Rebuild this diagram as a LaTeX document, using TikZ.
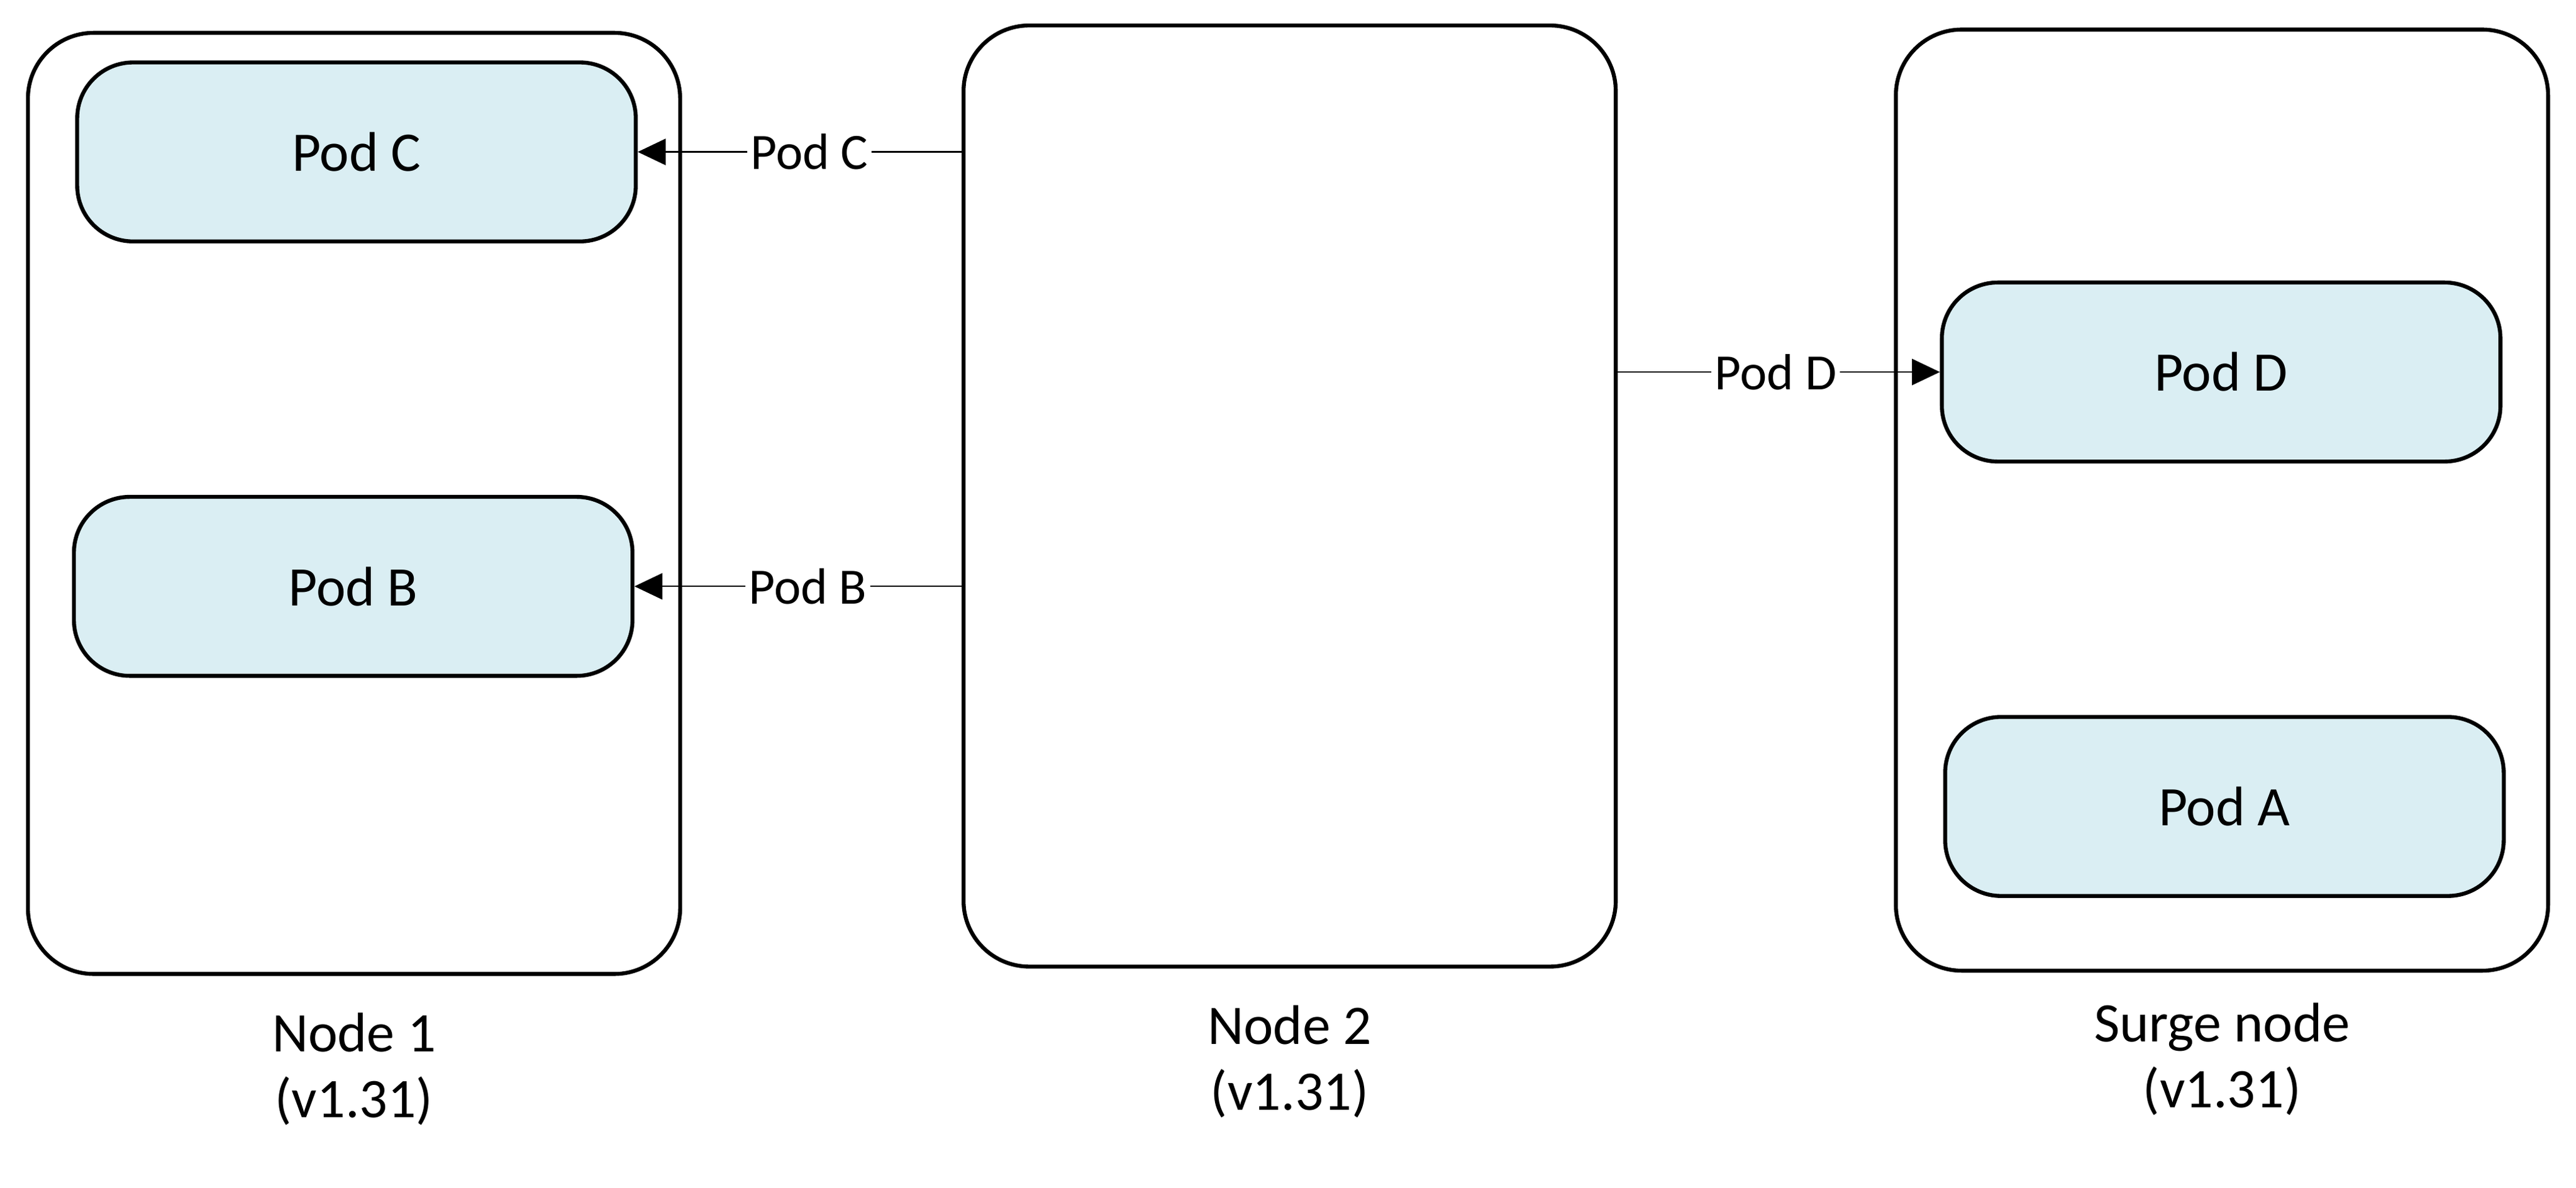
\documentclass[tikz,border=0pt]{standalone}
\usepackage{fontspec}
\setmainfont{Carlito}
\usetikzlibrary{arrows.meta,positioning}
\definecolor{podfill}{RGB}{218,238,243}
\tikzset{
  nodebox/.style={draw,line width=1.2pt,rounded corners=20pt,minimum width=198.5pt,minimum height=286.5pt},
  podbox/.style={draw,fill=podfill,line width=1.2pt,rounded corners=17pt,minimum width=170pt,minimum height=54.5pt,font=\fontsize{17}{20}\selectfont},
  caption/.style={align=center,font=\fontsize{17}{20}\selectfont,inner sep=0pt},
  podlabel/.style={fill=white,inner sep=1pt,font=\fontsize{15.5}{18}\selectfont},
  move/.style={-{Triangle[length=8.5pt,width=8pt]},line width=0.45pt}
}
\begin{document}
\begin{tikzpicture}[x=0.5pt,y=-0.5pt]
  \useasboundingbox (0,0) rectangle (1568,723);
  \node[nodebox] (node1) at (215.5,306.5) {};
  \node[nodebox] (node2) at (785,302) {};
  \node[nodebox] (surge) at (1352.5,304.5) {};
  \node[podbox] (podC) at (217,92.5) {Pod C};
  \node[podbox] (podB) at (215,357) {Pod B};
  \node[podbox] (podD) at (1352,226.5) {Pod D};
  \node[podbox] (podA) at (1354,491) {Pod A};
  \node[caption,below=11pt of node1] (cap1) {Node 1\\(v1.31)};
  \node[caption,below=11pt of node2] (cap2) {Node 2\\(v1.31)};
  \node[caption,below=9pt of surge] (cap3) {Surge node\\(v1.31)};
  \draw[move] (node2.west |- podC) -- node[podlabel,pos=0.47] {Pod C} (podC.east);
  \draw[move] (node2.west |- podB) -- node[podlabel,pos=0.47] {Pod B} (podB.east);
  \draw[move] (node2.east |- podD) -- node[podlabel,pos=0.49] {Pod D} (podD.west);
\end{tikzpicture}
\end{document}
